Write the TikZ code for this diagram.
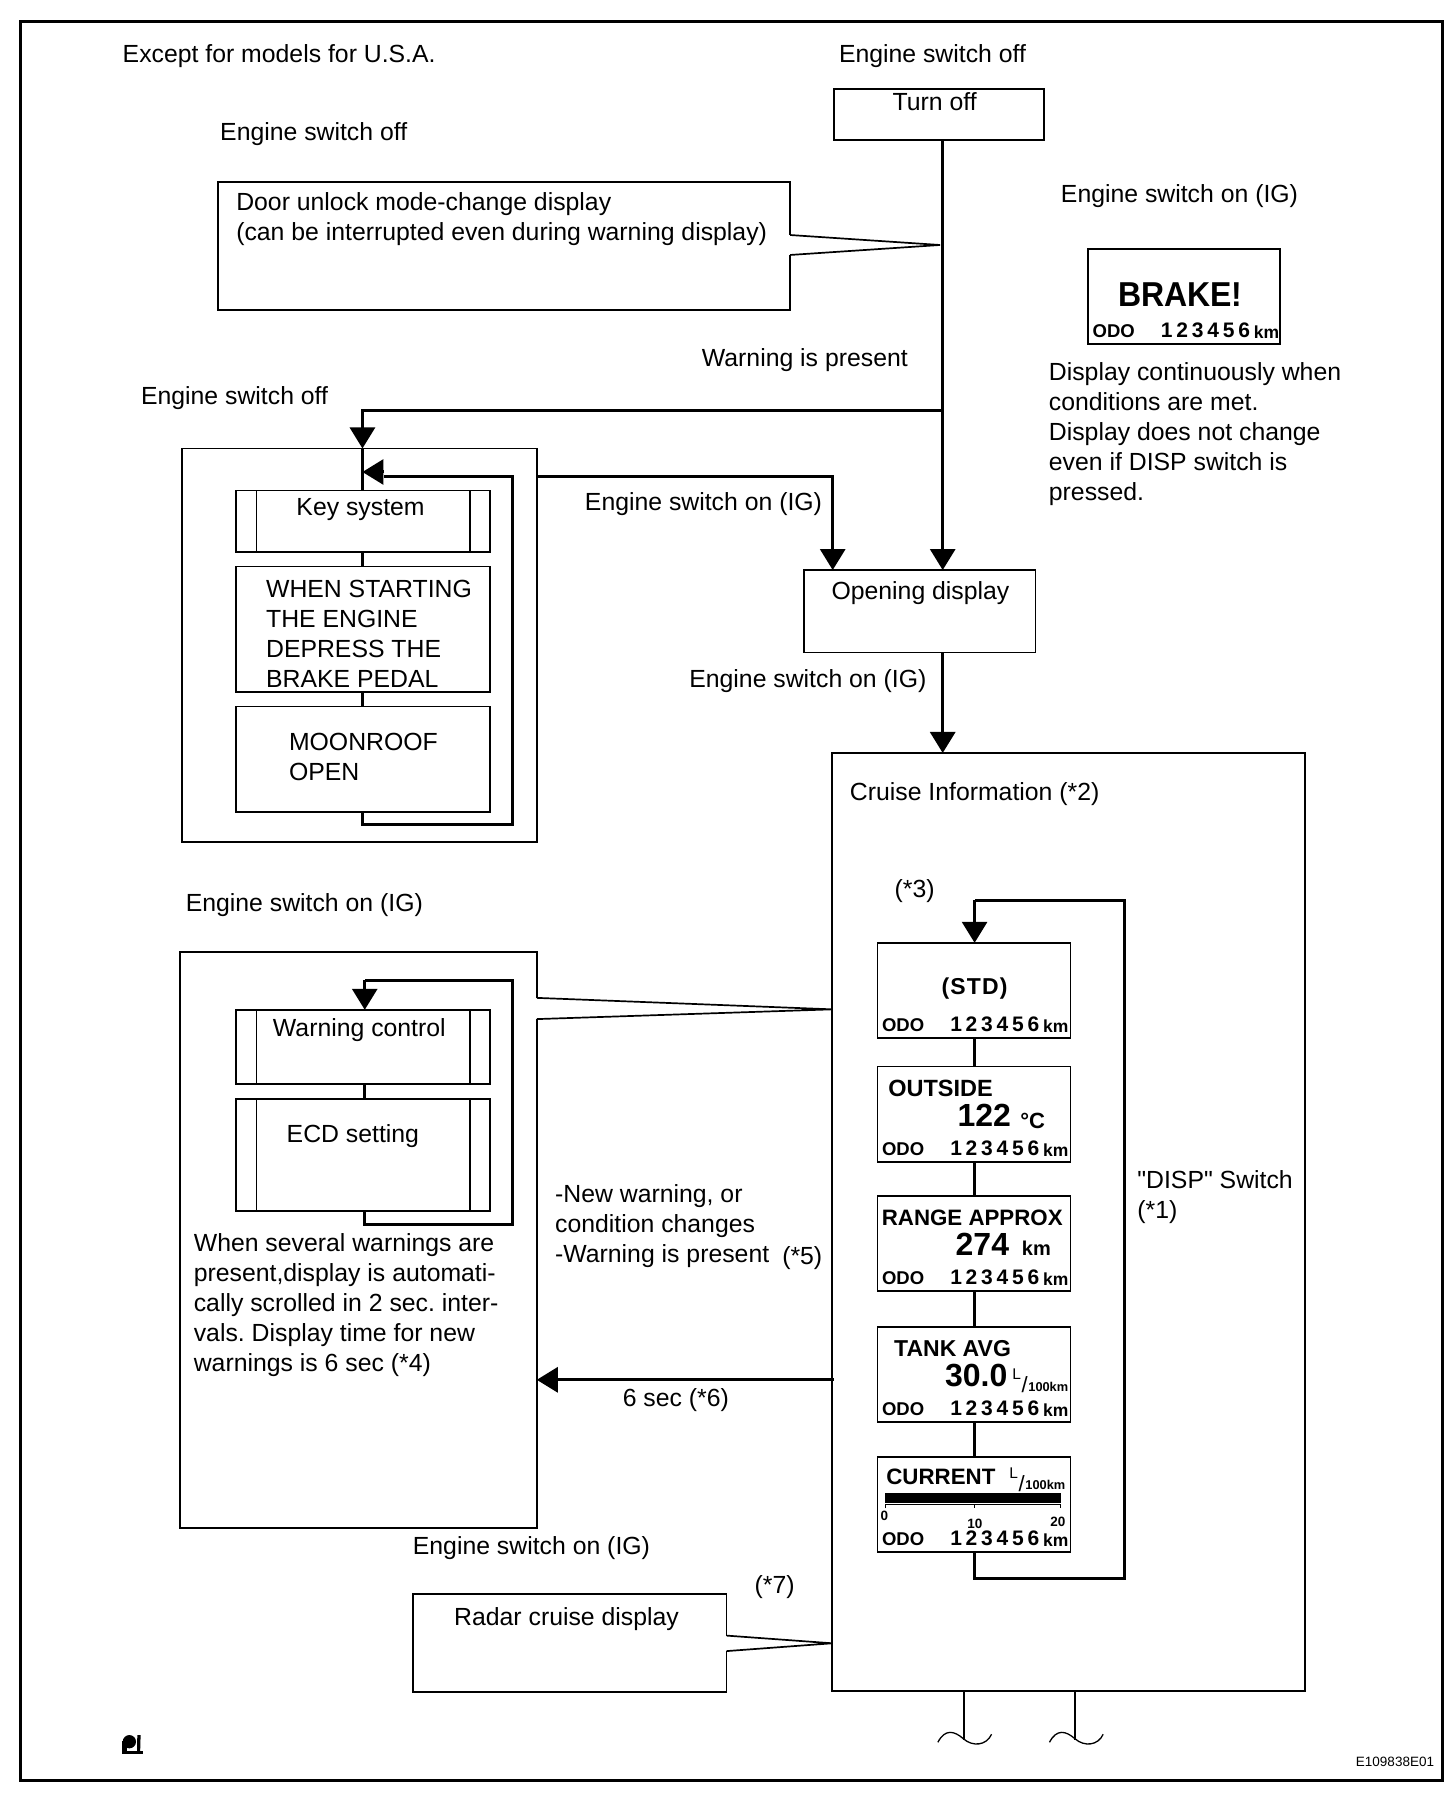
\documentclass[tikz,border=0pt]{standalone}
\usepackage{fontspec}
\usepackage{graphicx}
\setmainfont{Liberation Sans}
\newfontfamily\plainf{Liberation Sans}
\usetikzlibrary{arrows.meta,fit}
\newcommand\szT{\fontsize{24.8}{30}\selectfont\frenchspacing}
\tikzset{
  pic0/.style={x=1.147pt,y=-1.147pt},
  txt/.style={inner sep=0pt,outer sep=0pt,anchor=base west,font=\szT},
  mtxt/.style={inner sep=0pt,outer sep=0pt,anchor=north west,align=left,font=\szT},
  box/.style={draw=black,line width=1.7pt,inner sep=0pt,outer sep=0pt,rectangle},
  thin line/.style={draw=black,line width=1.7pt},
  flow/.style={draw=black,line width=3pt},
  flowtip/.style={draw=black,line width=3pt,-{Triangle[length=21pt,width=25pt]}},
  disp/.style={inner sep=0pt,outer sep=0pt,anchor=base west},
  dispA/.style={disp,font=\fontsize{22.3}{26}\selectfont\bfseries},
  dispB/.style={disp,font=\fontsize{32}{36}\selectfont\bfseries},
  dispC/.style={disp,font=\fontsize{20}{24}\selectfont\bfseries},
  dispO/.style={disp,font=\fontsize{18.5}{20}\selectfont\bfseries},
  dispN/.style={disp,font=\fontsize{21}{24}\selectfont\bfseries\addfontfeature{LetterSpace=18}},
  dispK/.style={disp,font=\fontsize{17.5}{18}\selectfont\bfseries},
  dispT/.style={disp,anchor=base,font=\fontsize{13.5}{15}\selectfont\bfseries},
}
% name, x1,y1,x2,y2
\newcommand\bx[5]{\node[box,fit={(#2,#3) (#4,#5)}] (#1) {};}
\newcommand\tx[4]{\node[txt] (#1) at (#2,#3) {#4};}
% multi-line text: name, x, first baseline, lines
\newcommand\mtx[4]{\node[mtxt] (#1) at (#2,#3-15.8) {#4};}
% name, box left, box bottom
\newcommand\odoline[3]{%
  \node[dispO] (#1o) at (#2+4,#3-5.5) {ODO};
  \node[dispN] (#1n) at (#2+63.5,#3-5.5) {123456};
  \node[dispK] (#1k) at (#2+144.5,#3-5) {km};}
% name, x, L baseline, 100km baseline
\newcommand\lper[4]{%
  \node[dispK,font=\fontsize{15.5}{16}\selectfont] (#1l) at (#2,#3) {L};
  \node[dispK,font=\fontsize{22}{24}\selectfont] (#1s) at (#2+8,#4+1) {/};
  \node[dispK,font=\fontsize{12.8}{16}\selectfont\bfseries] (#1h) at (#2+14,#4) {100km};}
% side bars of a subroutine box
\newcommand\bars[1]{%
  \draw[thin line] (223.5,0 |- #1.north) -- (223.5,0 |- #1.south);
  \draw[thin line] (409.6,0 |- #1.north) -- (409.6,0 |- #1.south);}
\begin{document}
\begin{tikzpicture}[pic0]
\useasboundingbox (0,0) rectangle (1269.4,1567.6);
% frame
\draw[black,line width=3pt] (18.3,18.7) rectangle (1258,1552.7);
% guide coordinates
\coordinate (trunk) at (821.9,0);
\coordinate (left) at (316,0);
\coordinate (loopA) at (849.7,0);
\coordinate (loopB) at (318,0);
% boxes
\bx{turnoff}{727.3}{77.7}{910.5}{122}
\bx{door}{190}{158.4}{688.8}{270}
\bx{brake}{948.7}{217}{1116}{300}
\bx{keyouter}{158.6}{391}{468}{734}
\bx{keysys}{205.6}{427.6}{427}{481.4}
\bx{starting}{205.6}{494}{427}{603.6}
\bx{moon}{205.6}{616}{427}{708}
\bx{opening}{701}{497}{902.7}{569}
\bx{cruise}{725.5}{656.5}{1138}{1474.4}
\bx{warnouter}{156.8}{830}{468}{1332}
\bx{warnctl}{205.6}{880.4}{427}{945}
\bx{ecd}{205.6}{958}{427}{1055.6}
\bx{radar}{360}{1390}{633.5}{1475}
\bx{dstd}{765}{822}{933.3}{905}
\bx{dout}{765}{929.8}{933.3}{1013}
\bx{drange}{765}{1042.8}{933.3}{1125.6}
\bx{dtank}{765}{1157}{933.3}{1240}
\bx{dcur}{765}{1270}{933.3}{1353}
\bars{keysys}
\bars{warnctl}
\bars{ecd}
% plain text
\tx{t1}{107}{54.6}{Except for models for U.S.A.}
\tx{t2}{731.5}{54.6}{Engine switch off}
\tx{t3}{778.3}{96.5}{Turn off}
\tx{t4}{192}{122.6}{Engine switch off}
\mtx{t5}{206}{184}{Door unlock mode-change display\\(can be interrupted even during warning display)}
\tx{t6}{925}{176.5}{Engine switch on (IG)}
\mtx{t7}{914.5}{331.5}{Display continuously when\\conditions are met.\\Display does not change\\even if DISP switch is\\pressed.}
\tx{t8}{612}{319.5}{Warning is present}
\tx{t9}{123}{353}{Engine switch off}
\tx{t10}{258.5}{449.3}{Key system}
\mtx{t11}{232}{521.7}{WHEN STARTING\\THE ENGINE\\DEPRESS THE\\BRAKE PEDAL}
\mtx{t12}{252}{655.2}{MOONROOF\\OPEN}
\tx{t13}{510}{444.7}{Engine switch on (IG)}
\tx{t14}{725}{523}{Opening display}
\tx{t15}{601}{599}{Engine switch on (IG)}
\tx{t16}{741}{698}{Cruise Information (*2)}
\tx{t17}{780}{782.6}{(*3)}
\tx{t18}{162}{795}{Engine switch on (IG)}
\tx{t19}{238}{904}{Warning control}
\tx{t20}{250}{996}{ECD setting}
\mtx{t21}{169}{1091}{When several warnings are\\present,display is automati-\\cally scrolled in 2 sec. inter-\\vals. Display time for new\\warnings is 6 sec (*4)}
\mtx{t22}{484}{1048.7}{-New warning, or\\condition changes\\-Warning is present}
\tx{t23}{682}{1102.5}{(*5)}
\tx{t24}{543}{1226.4}{6 sec (*6)}
\tx{t25}{360}{1355.5}{Engine switch on (IG)}
\tx{t26}{658}{1389.5}{(*7)}
\tx{t27}{396}{1417.5}{Radar cruise display}
\mtx{t28}{991.6}{1036}{{\plainf"DISP"} Switch\\(*1)}
\node[disp,font=\fontsize{13.5}{15}\selectfont] (code) at (1182.2,1540.3) {E109838E01};
% displays
\node[disp,anchor=base,font=\fontsize{32}{36}\selectfont\bfseries] (bk) at (1029,267.6) {\scalebox{1}[1.08]{BRAKE!}};
\odoline{bko}{948.7}{300}
\node[disp,anchor=base,font=\fontsize{23}{26}\selectfont\bfseries\addfontfeature{LetterSpace=5}] (std) at (849.7,867) {(STD)};
\odoline{o1}{765}{905}
\node[dispA,font=\fontsize{23.5}{26}\selectfont\bfseries] (oa) at (774.5,955.8) {OUTSIDE};
\node[dispB] (ob) at (834.8,981.8) {122};
\node[dispC,font=\fontsize{22}{24}\selectfont\bfseries] (oc) at (889.5,984) {°C};
\odoline{o2}{765}{1013}
\node[dispA] (ra) at (768.8,1068.8) {RANGE APPROX};
\node[dispB] (rb) at (833.2,1094.9) {274};
\node[dispC] (rc) at (891,1095) {km};
\odoline{o3}{765}{1125.6}
\node[dispA,font=\fontsize{23}{26}\selectfont\bfseries] (ta) at (779.6,1182.8) {TANK AVG};
\node[dispB] (tb) at (824,1208.9) {30.0};
\lper{tl}{882.6}{1203}{1213}
\odoline{o4}{765}{1240}
\node[dispA] (ca) at (772.8,1294.5) {CURRENT};
\lper{cl}{880}{1289}{1299}
\fill[black] (771.6,1301.6) rectangle (925,1310);
\draw[black,line width=1pt] (771.8,1315) -- (771.8,1311.3) -- (925,1311.3) -- (925,1315);
\draw[black,line width=1pt] (849.5,1311.3) -- (849.5,1315);
\node[dispT] (s0) at (771,1325.6) {0};
\node[dispT] (s1) at (850,1332.7) {10};
\node[dispT] (s2) at (922.3,1330.6) {20};
\odoline{o5}{765}{1353}
% connectors: trunk
\draw[flowtip] (trunk |- turnoff.south) -- (trunk |- opening.north);
\coordinate (branch) at (trunk |- 0,358);
\draw[flowtip] (branch) -| (left |- keyouter.north);
\draw[flow] (left |- keyouter.north) -- (left |- keysys.north);
\draw[flow] (left |- keysys.south) -- (left |- starting.north);
\draw[flow] (left |- starting.south) -- (left |- moon.north);
% key-system return loop
\coordinate (keyloop) at (446.9,415.6);
\coordinate (keytip) at (left |- 0,411.5);
\draw[flow] (left |- moon.south) -- (left |- 0,718.6) -| (keyloop) -- (335,415.6);
\draw[flowtip] (335,411.5) -- (keytip);
% key system to opening display
\coordinate (openx) at (726,0);
\draw[flowtip] (keyouter.east |- keyloop) -| (openx |- opening.north);
% opening to cruise
\draw[flowtip] (trunk |- opening.south) -- (trunk |- cruise.north);
% cruise display loop
\draw[flow] (loopA |- dcur.south) -- (loopA |- 0,1376.5) -| (980.6,785) -- (loopA |- 0,785);
\draw[flowtip] (loopA |- 0,785) -- (loopA |- dstd.north);
\draw[flow] (loopA |- dstd.south) -- (loopA |- dout.north);
\draw[flow] (loopA |- dout.south) -- (loopA |- drange.north);
\draw[flow] (loopA |- drange.south) -- (loopA |- dtank.north);
\draw[flow] (loopA |- dtank.south) -- (loopA |- dcur.north);
% warning loop
\draw[flow] (loopB |- warnctl.south) -- (loopB |- ecd.north);
\draw[flow] (loopB |- ecd.south) -- (loopB |- 0,1068) -| (446.9,854.6) -- (loopB |- 0,854.6);
\draw[flowtip] (loopB |- 0,854.6) -- (loopB |- warnctl.north);
% 6 sec
\coordinate (sixsec) at (727,1203);
\draw[flowtip] (sixsec) -- (warnouter.east |- sixsec);
% callouts
\coordinate (doorA) at (688.8,204.9);
\coordinate (doorB) at (688.8,222.3);
\coordinate (doorT) at (819.5,213.6);
\draw[white,line width=2.6pt] (doorA) -- (doorB);
\draw[thin line,line join=miter] (doorA) -- (doorT) -- (doorB);
\coordinate (warnA) at (468,870);
\coordinate (warnB) at (468,888.5);
\coordinate (warnT) at (725.5,880);
\draw[white,line width=2.6pt] (warnA) -- (warnB);
\draw[thin line] (warnA) -- (warnT) -- (warnB);
\coordinate (radA) at (633.5,1426);
\coordinate (radB) at (633.5,1439.5);
\coordinate (radT) at (725.5,1432.7);
\draw[white,line width=2.6pt] (radA) -- (radB);
\draw[thin line] (radA) -- (radT) -- (radB);
% continuation stems
\coordinate (stemA) at (840.3,1517);
\coordinate (stemB) at (937.5,1517);
\draw[thin line] (stemA |- cruise.south) -- (stemA);
\draw[thin line] (stemB |- cruise.south) -- (stemB);
\draw[black,line width=1.3pt] (817.7,1519) .. controls (824,1507) and (832,1509) .. (840,1516) .. controls (848,1523) and (860,1522) .. (864.5,1512);
\draw[black,line width=1.3pt] (915,1519) .. controls (921.3,1507) and (929.3,1509) .. (937.3,1516) .. controls (945.3,1523) and (957.3,1522) .. (961.8,1512);
% corner mark
\fill[black] (106.4,1526.3) rectangle (124.9,1529.5);
\fill[black] (106.4,1518) rectangle (110.5,1529.5);
\fill[black] (112.8,1518.5) circle (5.8);
\fill[black] (119.7,1512.7) -- (122.6,1512.7) -- (122.2,1527) -- (119.5,1527) -- cycle;
\end{tikzpicture}
\end{document}
